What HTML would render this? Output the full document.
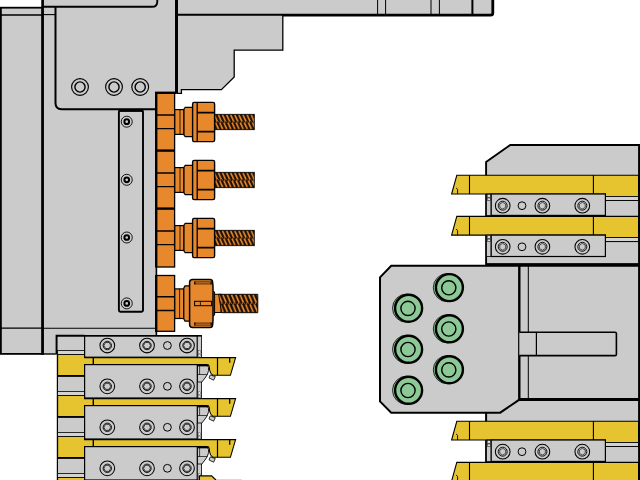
<!DOCTYPE html><html><head><meta charset="utf-8"><title>Tooling layout</title>
<style>html,body{margin:0;padding:0;background:#fff}svg{display:block}</style></head><body>
<svg width="640" height="480" viewBox="0 0 640 480" shape-rendering="geometricPrecision">
<rect width="640" height="480" fill="#fff"/>
<defs>
<pattern id="tw" x="214.7" y="-7.7" width="4.1" height="15.4" patternUnits="userSpaceOnUse"><rect width="4.1" height="15.4" fill="#1c0e02"/><path d="M-4.6,0.4 L-1.5,7 M-0.5,0.4 L2.6,7 M3.6,0.4 L6.7,7 M-3.2,8.4 L-0.1,15 M0.9,8.4 L4,15 M5,8.4 L8.1,15" stroke="#e8882d" stroke-width="1.6" fill="none"/><path d="M1.4,7.7 h1.1 M3.4,7.5 h0.8" stroke="#e8882d" stroke-width="1" opacity="0.85"/></pattern>
<pattern id="tw2" x="219" y="-9.4" width="4.3" height="18.8" patternUnits="userSpaceOnUse"><rect width="4.3" height="18.8" fill="#1c0e02"/><path d="M-4.8,0.4 L-1.4,8.6 M-0.5,0.4 L2.9,8.6 M3.8,0.4 L7.2,8.6 M-3.4,10.2 L0,18.4 M0.9,10.2 L4.3,18.4 M5.2,10.2 L8.6,18.4" stroke="#e8882d" stroke-width="1.65" fill="none"/><path d="M1.4,9.4 h1.1 M3.5,9.2 h0.8" stroke="#e8882d" stroke-width="1" opacity="0.85"/></pattern>
<g id="scr"><circle r="7.35" fill="#cbcbcb" stroke="#000" stroke-width="1.05"/><circle r="4.2" fill="none" stroke="#000" stroke-width="0.9"/><polygon points="3.50,0.00 1.75,3.03 -1.75,3.03 -3.50,0.00 -1.75,-3.03 1.75,-3.03" fill="none" stroke="#111" stroke-width="0.8"/></g>
<g id="scrR"><circle r="7.35" fill="#cbcbcb" stroke="#000" stroke-width="1.05"/><circle r="4.5" fill="none" stroke="#000" stroke-width="0.9"/><polygon points="2.94,1.70 0.00,3.40 -2.94,1.70 -2.94,-1.70 -0.00,-3.40 2.94,-1.70" fill="none" stroke="#222" stroke-width="0.75"/></g>
<g id="pin"><circle r="3.9" fill="#cbcbcb" stroke="#000" stroke-width="1"/></g>
<g id="ring"><circle r="8.4" fill="#cbcbcb" stroke="#000" stroke-width="1.15"/><circle r="5.1" fill="#cbcbcb" stroke="#000" stroke-width="1.4"/></g>
<g id="sscr"><circle r="5.5" fill="#cbcbcb" stroke="#000" stroke-width="0.9"/><circle r="2.35" fill="#cbcbcb" stroke="#000" stroke-width="2"/></g>
<g id="grn"><circle cx="-2" r="14.1" fill="#8cc997" stroke="#000" stroke-width="0.8"/><circle r="13.5" fill="#8cc997" stroke="#000" stroke-width="2.4"/><circle cx="-0.6" cy="0.2" r="7.1" fill="#8cc997" stroke="#000" stroke-width="1.4"/></g>
<g id="tool"><rect x="214.5" y="-7.7" width="39.8" height="15.4" fill="url(#tw)" stroke="#000" stroke-width="0.8"/><rect x="174.8" y="-12.4" width="9.2" height="24.8" fill="#e8882d" stroke="#000" stroke-width="1.2"/><path d="M180,-12.4 V12.4" stroke="#000" stroke-width="0.8"/><path d="M184,-13 L185.2,-14.6 H192.6 V14.6 H185.2 L184,13 Z" fill="#e8882d" stroke="#000" stroke-width="1.2"/><rect x="192.6" y="-19.6" width="22" height="39.2" rx="1.6" fill="#e8882d" stroke="#000" stroke-width="1.4"/><path d="M197.2,-19.6 V19.6" stroke="#000" stroke-width="1.3"/><path d="M197.2,-9.4 H214.6 M197.2,9.6 H214.6" stroke="#000" stroke-width="1.8"/></g>
<g id="lunit"><path d="M197.3,28.8 H207.2 Q209.1,31 208.6,34.3 Q207.8,38.6 205,41.8 L201,46.8 H197.3 Z" fill="#cbcbcb" stroke="#000" stroke-width="0.9"/><path d="M197.3,29.4 H208" stroke="#000" stroke-width="1.5"/><path d="M197.3,38.3 H207.4 M199.6,29 V38.3" stroke="#000" stroke-width="0.7" fill="none"/><path d="M210.2,38.7 L215.3,40.4 L213.6,44 L209,41.7 Z" fill="#cbcbcb" stroke="#000" stroke-width="0.8"/><path d="M57.6,18.3 H84.6 V21.4 H235.6 L230.4,39.1 H212.8 Q210.2,37.3 209.6,33.8 L209.2,30.4 Q209,28.4 207,28.4 H84.6 V39.7 H57.6 Z" fill="#e6c42f" stroke="#000" stroke-width="1.1"/><path d="M217.5,21.4 V39.1" stroke="#000" stroke-width="1.2"/><path d="M93.3,21.4 V28.4" stroke="#000" stroke-width="1.4"/><path d="M229.7,21.4 V26.6" stroke="#000" stroke-width="1.3"/><path d="M57.6,39.7 H84.6" stroke="#000" stroke-width="1.7"/><rect x="57.6" y="14.3" width="27" height="3.9" fill="#d3d3d3" stroke="#000" stroke-width="0.8"/></g>
<g id="lplate"><rect x="84.6" y="0" width="112.7" height="33.4" fill="#cbcbcb" stroke="#000" stroke-width="1.2"/><use href="#scr" x="107.3" y="21.7"/><use href="#scr" x="147" y="21.7"/><use href="#pin" x="167.4" y="21.7"/><use href="#scr" x="187" y="21.7"/><rect x="197.3" y="17.4" width="4.1" height="16" fill="#cbcbcb" stroke="#000" stroke-width="0.8"/><rect x="198.3" y="27.2" width="2.2" height="2.5" fill="#ececec" stroke="#444" stroke-width="0.4"/><rect x="198.3" y="30.5" width="2.2" height="2.5" fill="#ececec" stroke="#444" stroke-width="0.4"/></g>
<g id="runit"><path d="M456.8,0 H638.6 V21.2 H605.4 V18.7 H451.6 Z" fill="#e6c42f" stroke="#000" stroke-width="1.1"/><path d="M469.5,0 V18.7 M593.4,0 V18.7" stroke="#000" stroke-width="1.1"/><path d="M457.6,18.7 V14 L456,12.6" fill="none" stroke="#000" stroke-width="0.9"/><rect x="605.4" y="21.2" width="33" height="4" fill="#d3d3d3" stroke="#000" stroke-width="0.8"/><path d="M605.4,25.2 H638" stroke="#000" stroke-width="0.8"/><rect x="486.4" y="18.7" width="4.8" height="21.4" fill="#cbcbcb" stroke="#000" stroke-width="0.8"/><rect x="487.2" y="19.4" width="3.3" height="2.5" fill="#e2e2e2" stroke="#000" stroke-width="0.5"/><rect x="487.2" y="22.7" width="3.3" height="2.5" fill="#e2e2e2" stroke="#000" stroke-width="0.5"/><rect x="491.2" y="18.7" width="114.2" height="21.4" fill="#cbcbcb" stroke="#000" stroke-width="1.2"/><use href="#scrR" x="502.7" y="30.4"/><use href="#pin" x="522" y="30.4"/><use href="#scrR" x="542.4" y="30.4"/><use href="#scrR" x="582.3" y="30.4"/></g>
</defs>
<path d="M177,-2 V15 H491 Q493,15 493,13 V-2 Z" fill="#cbcbcb" stroke="none"/>
<path d="M176.3,15.2 H490.6 Q492.8,15.2 492.8,13 V-2" fill="none" stroke="#000" stroke-width="2.8"/>
<path d="M377.6,0 V15 M385.6,0 V15 M431,0 V15 M439.4,0 V15" stroke="#000" stroke-width="1"/>
<path d="M472.4,0 V15" stroke="#000" stroke-width="2"/>
<path d="M177,15 H282.8 V50.2 H234.2 V77 L221.4,89.6 H181.4 V93.4 H177 Z" fill="#cbcbcb" stroke="#000" stroke-width="1.3"/>
<rect x="0.9" y="7.7" width="41.6" height="346.2" fill="#cbcbcb" stroke="#000" stroke-width="1.8"/>
<path d="M1,15 H42 M1,328.2 H42" stroke="#000" stroke-width="1.3"/>
<path d="M43,-2 H157 V4 Q157,6.6 154,6.6 H157 V336 H56.6 V354 H43 Z" fill="#cbcbcb"/>
<path d="M43,-2 H157.5 V4 Q157.5,6.6 154,6.6 H43 Z" fill="#cbcbcb"/>
<path d="M156.4,93 V335" fill="none" stroke="#000" stroke-width="1.6"/>
<path d="M43,14.6 H55" stroke="#000" stroke-width="1.1"/>
<path d="M43,328.2 H157" stroke="#000" stroke-width="1.1"/>
<path d="M43,354 H55.8" stroke="#000" stroke-width="1.4"/>
<path d="M42.6,-2 V354.8" stroke="#000" stroke-width="2.7"/>
<path d="M156,-2 H177 V93 H156 Z" fill="#cbcbcb"/>
<path d="M176.5,-2 V93.4" stroke="#000" stroke-width="3"/>
<path d="M43,6.8 H152 Q157.3,6.8 157.3,1.4 V-2" fill="none" stroke="#000" stroke-width="1.9"/>
<path d="M55.5,7 V103 Q55.5,109.2 61.5,109.2 H156" fill="none" stroke="#000" stroke-width="2"/>
<use href="#ring" x="80" y="87"/><use href="#ring" x="114" y="87"/><use href="#ring" x="140.2" y="87"/>
<rect x="118.9" y="110.4" width="24.1" height="201.3" rx="1.4" fill="#cbcbcb" stroke="#000" stroke-width="1.9"/>
<path d="M118.9,110.4 H143" stroke="#000" stroke-width="3"/>
<use href="#sscr" x="126.75" y="121.7"/>
<use href="#sscr" x="126.75" y="179.8"/>
<use href="#sscr" x="126.75" y="237.5"/>
<use href="#sscr" x="126.75" y="303.4"/>
<rect x="156.6" y="93" width="18" height="174" fill="#e8882d" stroke="#000" stroke-width="1.3"/>
<rect x="156.6" y="275.5" width="18" height="55.8" fill="#e8882d" stroke="#000" stroke-width="1.3"/>
<path d="M156.1,92 V267.6 M156.1,274.9 V332" stroke="#000" stroke-width="2.2"/>
<path d="M155,92.8 H176" stroke="#000" stroke-width="2.4"/>
<path d="M156.2,115 H174.6 M156.2,128.6 H174.6" stroke="#000" stroke-width="1.4"/>
<path d="M156.2,173 H174.6 M156.2,186.6 H174.6" stroke="#000" stroke-width="1.4"/>
<path d="M156.2,150.6 H174.6" stroke="#000" stroke-width="2.4"/>
<path d="M156.2,231 H174.6 M156.2,244.6 H174.6" stroke="#000" stroke-width="1.4"/>
<path d="M156.2,208.6 H174.6" stroke="#000" stroke-width="2.4"/>
<path d="M156.2,296.7 H174.6 M156.2,310.5 H174.6" stroke="#000" stroke-width="1.4"/>
<use href="#tool" y="122"/>
<use href="#tool" y="180"/>
<use href="#tool" y="238"/>
<g transform="translate(0,303.5)"><rect x="213" y="-9.2" width="8" height="18.2" fill="#e8882d" stroke="#000" stroke-width="1"/><path d="M218.6,-9.2 H257.8 V9.2 H221.6 Z" fill="url(#tw2)" stroke="#000" stroke-width="0.9"/><path d="M212.6,-12.6 L214.6,-11.6 V11.6 L212.6,12.6 Z" fill="#e8882d" stroke="#000" stroke-width="1"/><rect x="174.8" y="-14.6" width="9" height="29.6" fill="#e8882d" stroke="#000" stroke-width="1.2"/><path d="M179.6,-14.6 V15" stroke="#000" stroke-width="0.8"/><path d="M183.8,-15.4 L185,-17.6 H190 V17.6 H185 L183.8,15.4 Z" fill="#e8882d" stroke="#000" stroke-width="1.2"/><path d="M189.6,-21 Q189.6,-24 192.6,-24 H210 Q212.4,-24 212.6,-21.4 L213,-17 V17 L212.6,21.4 Q212.4,24 210,24 H192.6 Q189.6,24 189.6,21 Z" fill="#e8882d" stroke="#000" stroke-width="1.5"/><path d="M194.6,-21.6 H211.4 M194.6,-19.6 H211.4 M194.6,19.6 H211.4 M194.6,21.6 H211.4" stroke="#000" stroke-width="0.7"/><path d="M194.8,-22 V-19 M211.2,-22 V-19 M194.8,22 V19 M211.2,22 V19" stroke="#000" stroke-width="1.2"/><rect x="194.6" y="-2.2" width="17" height="4.4" fill="#e8882d" stroke="#000" stroke-width="1"/><path d="M200.4,-2.2 V2.2" stroke="#000" stroke-width="0.8"/></g>
<rect x="57.6" y="336.2" width="143.8" height="150" fill="#cbcbcb" stroke="none"/>
<path d="M57.4,354 V482" stroke="#000" stroke-width="1.2"/>
<use href="#lunit" y="336.2"/>
<use href="#lunit" y="377.2"/>
<use href="#lunit" y="418.2"/>
<use href="#lunit" y="459.2"/>
<rect x="84.6" y="335.8" width="112.7" height="21.4" fill="#cbcbcb" stroke="#000" stroke-width="1.2"/>
<use href="#scr" x="107.3" y="345.5"/><use href="#scr" x="147" y="345.5"/><use href="#pin" x="167.4" y="345.5"/><use href="#scr" x="187" y="345.5"/>
<rect x="197.3" y="335.8" width="4.1" height="21.6" fill="#cbcbcb" stroke="#000" stroke-width="0.8"/>
<rect x="198.3" y="350.8" width="2.2" height="2.5" fill="#ececec" stroke="#444" stroke-width="0.4"/>
<rect x="198.3" y="354.1" width="2.2" height="2.5" fill="#ececec" stroke="#444" stroke-width="0.4"/>
<use href="#lplate" y="364.6"/>
<use href="#lplate" y="405.6"/>
<use href="#lplate" y="446.6"/>
<path d="M199.4,482 V475.9 H211.6 L217,481 V482 Z" fill="#e6c42f" stroke="#000" stroke-width="1.2"/>
<path d="M216.5,479.6 H242" stroke="#d6d6d6" stroke-width="1"/>
<path d="M56.6,354.4 V335.8 H84.6" fill="none" stroke="#000" stroke-width="2"/>
<path d="M84.6,335.7 H201.8" fill="none" stroke="#000" stroke-width="1.6"/>
<path d="M486.1,264.4 V162 L510.3,145 H642 V264.4 Z" fill="#cbcbcb" stroke="#000" stroke-width="1.9"/>
<use href="#runit" y="175.3"/><use href="#runit" y="216.4"/>
<path d="M486.2,264.4 H640" stroke="#000" stroke-width="2.4"/>
<path d="M486.1,482 V400 H642 V482 Z" fill="#cbcbcb" stroke="#000" stroke-width="2"/>
<use href="#runit" y="421.3"/><use href="#runit" y="462.4"/>
<path d="M380,277.4 L391.2,265.8 H642 V399.6 H519.4 L500.2,412.7 H391.2 L380,401.4 Z" fill="#cbcbcb" stroke="#000" stroke-width="2"/>
<path d="M519.3,265 V399.4" stroke="#000" stroke-width="2.4"/>
<path d="M519.3,399.2 H640" stroke="#000" stroke-width="2.4"/>
<path d="M528.3,265 V399" stroke="#000" stroke-width="1"/>
<path d="M519.3,332.2 H615 Q616.4,332.2 616.4,333.6 V354.2 Q616.4,355.6 615,355.6 H519.3" fill="#cbcbcb" stroke="#000" stroke-width="1.6"/>
<path d="M536.4,332.2 V355.6" stroke="#000" stroke-width="1.2"/>
<use href="#grn" x="449.4" y="287.6"/>
<use href="#grn" x="408.6" y="308.2"/>
<use href="#grn" x="449.4" y="328.8"/>
<use href="#grn" x="408.6" y="349.3"/>
<use href="#grn" x="449.4" y="369.7"/>
<use href="#grn" x="408.6" y="390.3"/>
<path d="M639.1,144 V480" stroke="#000" stroke-width="2"/>
</svg></body></html>
